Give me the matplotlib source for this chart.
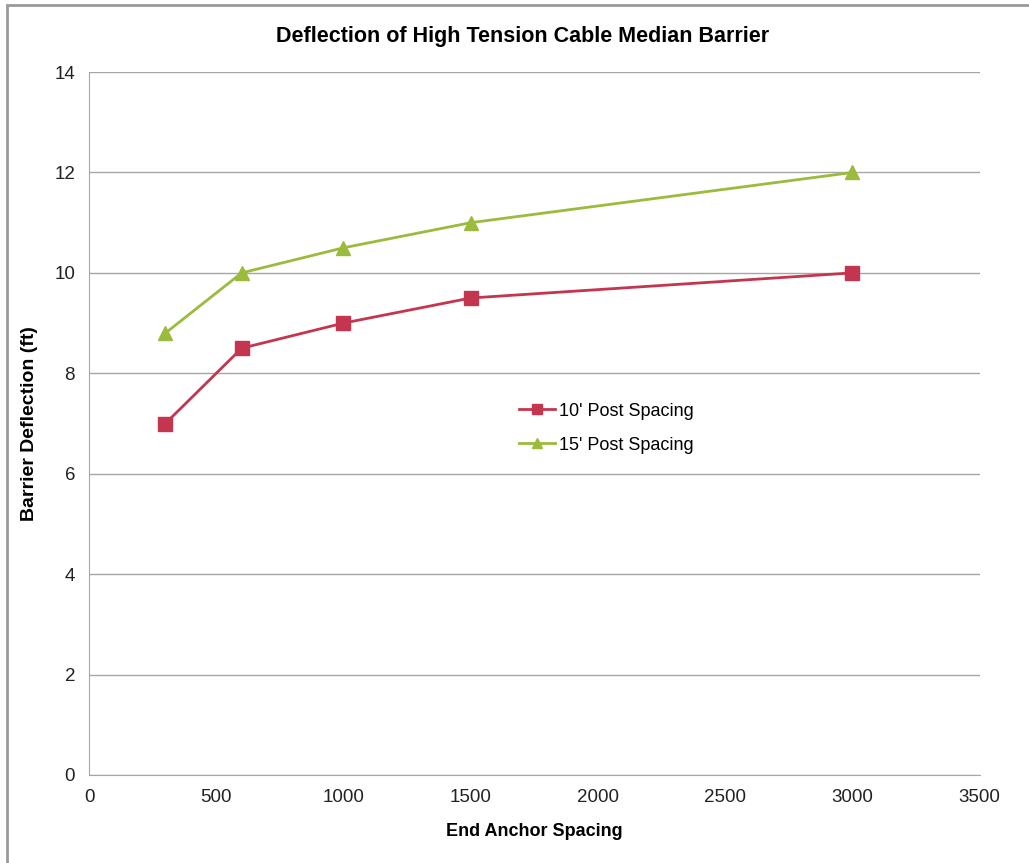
import matplotlib.pyplot as plt
from matplotlib.patches import Rectangle

plt.rcParams['font.family'] = ['Liberation Sans', 'DejaVu Sans']

anchor_spacing = [300, 600, 1000, 1500, 3000]
defl_10ft = [7.0, 8.5, 9.0, 9.5, 10.0]
defl_15ft = [8.8, 10.0, 10.5, 11.0, 12.0]

red = '#C4364F'
green = '#9BBB3C'
grid_col = '#A6A6A6'

fig = plt.figure(figsize=(10.29, 8.63), dpi=100)
ax = fig.add_axes([0.0865, 0.102, 0.8655, 0.8145])

# outer border of the chart image (left and top edges only visible)
fig.patches.append(Rectangle((7 / 1029, -0.1), 1.2, 1 - 5 / 863 + 0.1,
                             transform=fig.transFigure, fill=False,
                             edgecolor='#9A9A9A', linewidth=2))

ax.plot(anchor_spacing, defl_10ft, color=red, marker='s', markersize=10,
        linewidth=2, label="10' Post Spacing")
ax.plot(anchor_spacing, defl_15ft, color=green, marker='^', markersize=10,
        linewidth=2, label="15' Post Spacing")

ax.set_xlim(0, 3500)
ax.set_ylim(0, 14)
ax.set_xticks(range(0, 3501, 500))
ax.set_yticks(range(0, 15, 2))
ax.yaxis.grid(True, color=grid_col, linewidth=1)
ax.set_axisbelow(True)
for s in ['top', 'right']:
    ax.spines[s].set_visible(False)
for s in ['left', 'bottom']:
    ax.spines[s].set_color(grid_col)
ax.tick_params(length=0, labelsize=13.5, colors='#222222', pad=10)

ax.set_title('Deflection of High Tension Cable Median Barrier',
             fontsize=15.5, fontweight='bold', pad=22, x=0.487)
ax.set_xlabel('End Anchor Spacing', fontsize=13, fontweight='bold', labelpad=12)
ax.set_ylabel('Barrier Deflection (ft)', fontsize=14, fontweight='bold', labelpad=12)

ax.legend(loc='upper left', bbox_to_anchor=(0.465, 0.553), frameon=False,
          fontsize=13, handlelength=2.0, handletextpad=0.2, labelspacing=0.95,
          markerscale=0.65)

fig.savefig('out.png', dpi=100)
